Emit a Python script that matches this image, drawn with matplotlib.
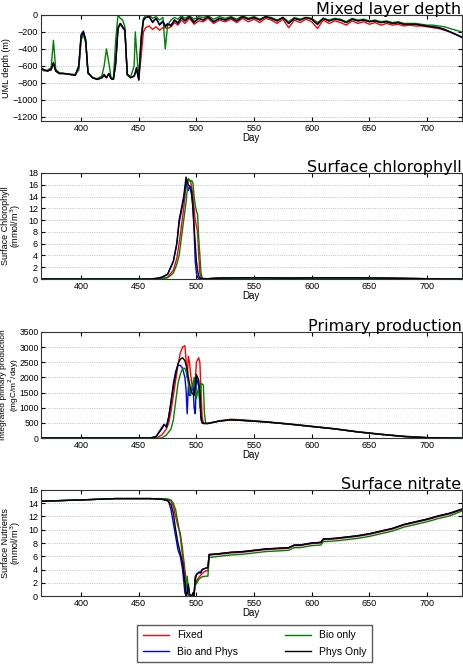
import matplotlib
matplotlib.use('Agg')
import matplotlib.pyplot as plt

plt.rcParams['font.family'] = ['Liberation Sans', 'DejaVu Sans']
plt.rcParams['font.size'] = 7

labels = ['Fixed', 'Bio and Phys', 'Bio only', 'Phys Only']
colors = ['#ff0000', '#0000ff', '#008000', '#000000']

# ---- mixed layer depth (m) ----
mld_days = [365, 368, 371, 374, 376, 378, 381, 385, 390, 395, 398, 400, 402, 404, 406,
            410, 414, 418, 420, 422, 424, 426, 428, 430, 432, 434, 436, 438, 440, 443,
            446, 447, 448, 450, 452, 454, 456, 459, 462, 465, 468, 471, 473, 475, 478,
            481, 484, 487, 490, 494, 498, 502, 506, 510, 515, 520, 525, 530, 535, 540,
            545, 550, 555, 560, 565, 570, 575, 580, 585, 590, 595, 600, 605, 610, 615,
            620, 625, 630, 635, 640, 645, 650, 655, 660, 665, 670, 675, 680, 685, 690,
            695, 700, 705, 710, 715, 720, 725, 730]
mld_fixed = [-630, -650, -660, -650, -580, -660, -690, -690, -700, -710, -620, -260, -210, -320, -690,
             -740, -760, -740, -720, -740, -700, -750, -760, -600, -170, -110, -150, -190, -710, -740,
             -720, -690, -640, -760, -500, -200, -150, -130, -170, -140, -180, -150, -150, -160, -140,
             -90, -120, -60, -100, -40, -110, -70, -80, -40, -100, -60, -80, -50, -90, -40,
             -80, -50, -90, -40, -60, -100, -50, -150, -60, -90, -50, -80, -160, -60, -100,
             -70, -90, -120, -70, -100, -80, -110, -90, -120, -100, -120, -110, -130, -120, -130,
             -130, -140, -150, -160, -180, -200, -230, -260]
mld_both = [-620, -650, -660, -640, -570, -660, -690, -690, -700, -710, -600, -230, -190, -290, -680,
            -740, -760, -740, -710, -740, -690, -750, -760, -560, -150, -100, -140, -180, -700, -740,
            -720, -680, -620, -770, -320, -70, -30, -20, -80, -40, -110, -70, -130, -100, -120,
            -60, -90, -30, -70, -20, -80, -40, -60, -20, -80, -40, -60, -30, -70, -20,
            -50, -30, -60, -20, -40, -70, -30, -100, -40, -60, -30, -50, -110, -40, -70,
            -50, -60, -90, -50, -70, -60, -80, -70, -90, -80, -100, -90, -110, -110, -110,
            -120, -130, -140, -150, -170, -200, -230, -265]
mld_bio = [-640, -660, -650, -620, -300, -640, -680, -690, -700, -700, -650, -300, -230, -330, -690,
           -740, -750, -720, -600, -400, -560, -740, -750, -300, 0, -40, -60, -140, -700, -730,
           -600, -200, -400, -760, -250, -40, -10, 0, -40, -20, -60, -30, -400, -120, -60,
           -30, -50, -10, -40, -10, -50, -20, -30, -10, -50, -20, -40, -20, -50, -10,
           -40, -20, -50, -20, -30, -60, -30, -80, -30, -50, -30, -40, -90, -40, -60,
           -40, -50, -80, -40, -60, -50, -70, -60, -80, -70, -90, -80, -100, -100, -100,
           -110, -120, -120, -130, -140, -160, -180, -200]
mld_phys = [-620, -650, -660, -640, -560, -660, -690, -690, -700, -710, -600, -250, -200, -300, -680,
            -740, -760, -740, -700, -740, -690, -750, -760, -550, -150, -100, -140, -180, -700, -740,
            -720, -680, -630, -760, -300, -60, -30, -20, -90, -40, -120, -80, -140, -110, -130,
            -60, -100, -30, -70, -20, -90, -40, -60, -20, -80, -40, -60, -30, -70, -20,
            -50, -30, -60, -20, -40, -70, -30, -100, -40, -60, -30, -50, -110, -40, -70,
            -50, -60, -90, -50, -70, -60, -80, -70, -90, -80, -100, -90, -110, -110, -110,
            -120, -130, -140, -150, -170, -200, -230, -260]

# ---- surface chlorophyll (mmol/m3) ----
chl_days = [365, 460, 465, 470, 475, 480, 483, 485, 487, 489, 491, 492, 493, 494, 495, 496,
            497, 498, 499, 500, 501, 502, 503, 504, 505, 506, 510, 520, 540, 560, 580,
            600, 620, 640, 660, 680, 700, 720, 730]
chl_fixed = [0, 0, 0.05, 0.1, 0.3, 1.5, 3.5, 6, 9, 12, 16, 16.5, 17, 16.8, 16.5, 15.5,
             14, 12, 10, 9, 8, 4, 1, 0.3, 0.1, 0.05, 0.05, 0.15, 0.2, 0.2, 0.15,
             0.2, 0.2, 0.2, 0.15, 0.1, 0.05, 0, 0]
chl_both = [0, 0, 0.1, 0.3, 0.8, 3, 6, 9.5, 11.5, 13.5, 16.5, 15.5, 15, 15.8, 15.2, 14,
            12, 8, 3, 1, 0.3, 0.1, 0.05, 0.05, 0.05, 0.05, 0.05, 0.15, 0.2, 0.2, 0.15,
            0.2, 0.2, 0.2, 0.15, 0.1, 0.05, 0, 0]
chl_bio = [0, 0, 0, 0.05, 0.2, 1, 2.5, 4, 7, 10, 13, 15, 17, 16.8, 16.5, 16.7,
           16.3, 14, 12.5, 11.5, 11, 7, 4, 1, 0.2, 0.1, 0.05, 0.15, 0.2, 0.2, 0.15,
           0.2, 0.2, 0.2, 0.15, 0.1, 0.05, 0, 0]
chl_phys = [0, 0, 0.1, 0.3, 0.8, 3, 6, 10, 12, 14, 17.3, 16.5, 16, 15.8, 15.5, 14.5,
            12, 9, 6, 3, 1.5, 0.5, 0.2, 0.1, 0.05, 0.05, 0.05, 0.15, 0.2, 0.2, 0.15,
            0.2, 0.2, 0.2, 0.15, 0.1, 0.05, 0, 0]

# ---- integrated primary production (mgC/m2/day) ----
pp_days = [365, 460, 465, 470, 472, 474, 476, 478, 480, 482, 484, 486, 488, 490, 491,
           492, 493, 494, 495, 496, 497, 498, 499, 500, 502, 503, 504, 505, 506, 507,
           508, 510, 520, 530, 540, 560, 580, 600, 620, 640, 660, 680, 700, 720, 730]
pp_fixed = [0, 0, 0, 100, 200, 300, 500, 900, 1400, 1900, 2400, 2800, 3000, 3050, 2600,
            2000, 2700, 2500, 2100, 1800, 1600, 1500, 1900, 2500, 2650, 2500, 1500, 700, 500, 490,
            480, 480, 570, 620, 600, 540, 470, 390, 310, 210, 130, 60, 15, 0, 0]
pp_both = [0, 0, 50, 350, 450, 380, 700, 1200, 1800, 2200, 2400, 2400, 2300, 2000, 1600,
           800, 1700, 1400, 1500, 1600, 1800, 1000, 800, 2000, 1700, 1200, 600, 500, 480, 480,
           480, 480, 560, 600, 580, 530, 460, 380, 300, 200, 120, 50, 10, 0, 0]
pp_bio = [0, 0, 0, 0, 50, 100, 200, 300, 600, 1200, 1800, 2100, 2300, 2300, 2200,
          2000, 1800, 1500, 1400, 1600, 1800, 2000, 1600, 1300, 1700, 1000, 1800, 1780, 1750, 800,
          500, 480, 560, 600, 580, 530, 460, 380, 300, 200, 120, 50, 10, 0, 0]
pp_phys = [0, 0, 50, 300, 450, 350, 700, 1200, 1700, 2100, 2450, 2600, 2650, 2550, 2400,
           2300, 2000, 1800, 1600, 1500, 1450, 1400, 1700, 2100, 1900, 1500, 700, 500, 480, 480,
           480, 480, 560, 600, 580, 530, 460, 380, 300, 200, 120, 50, 10, 0, 0]

# ---- surface nitrate (mmol/m3) ----
no3_days = [365, 400, 430, 460, 470, 475, 476, 478, 480, 482, 484, 486, 488, 490, 491,
            492, 493, 494, 496, 497, 498, 499, 500, 502, 504, 505, 508, 510, 511, 520,
            530, 540, 550, 560, 570, 580, 585, 590, 600, 608, 610, 620, 630, 640, 650,
            660, 670, 680, 690, 700, 710, 720, 730]
no3_fixed = [14.3, 14.5, 14.7, 14.7, 14.65, 14.55, 14.5, 14.3, 13.5, 12, 10.5, 9.5, 7, 4, 2.5,
             1, 0, 0, 0, 0.2, 0.5, 2.5, 2.2, 2.8, 3.2, 3.4, 3.8, 3.8, 6.2, 6.3,
             6.5, 6.6, 6.8, 7.0, 7.1, 7.2, 7.6, 7.6, 7.9, 8.0, 8.5, 8.6, 8.8, 9.0, 9.3,
             9.7, 10.1, 10.7, 11.1, 11.5, 12.0, 12.4, 13.0]
no3_both = [14.3, 14.5, 14.7, 14.7, 14.6, 14.4, 14.2, 13.0, 11, 9, 7, 6, 4, 0.5, 0,
            0.5, 1.5, 0.2, 0, 0.3, 0, 2.8, 3.3, 3.6, 3.7, 4.0, 4.2, 4.3, 6.3, 6.4,
            6.6, 6.7, 6.9, 7.1, 7.2, 7.3, 7.7, 7.7, 8.0, 8.1, 8.6, 8.7, 8.9, 9.1, 9.4,
            9.8, 10.2, 10.8, 11.2, 11.6, 12.1, 12.5, 13.1]
no3_bio = [14.3, 14.5, 14.7, 14.7, 14.7, 14.65, 14.6, 14.5, 14, 13, 11, 9, 6, 3, 1,
           3, 1, 0, 0, 0, 0, 3, 1.8, 2.5, 2.8, 2.9, 3, 3, 5.8, 6.0,
           6.2, 6.3, 6.5, 6.7, 6.8, 6.9, 7.3, 7.3, 7.6, 7.7, 8.2, 8.3, 8.5, 8.7, 9.0,
           9.4, 9.8, 10.4, 10.8, 11.2, 11.7, 12.1, 12.8]
no3_phys = [14.3, 14.5, 14.7, 14.7, 14.6, 14.4, 14.2, 13.8, 12.5, 10, 8, 6.5, 5, 2, 0,
            0.5, 1.8, 0.3, 0, 0.5, 0, 2.5, 3.2, 3.5, 3.5, 4.0, 4.2, 4.3, 6.2, 6.4,
            6.6, 6.7, 6.9, 7.1, 7.2, 7.3, 7.7, 7.7, 8.0, 8.1, 8.6, 8.7, 8.9, 9.1, 9.4,
            9.8, 10.2, 10.8, 11.2, 11.6, 12.1, 12.5, 13.1]

panels = [
    ('Mixed layer depth', 'UML depth (m)', mld_days,
     [mld_fixed, mld_both, mld_bio, mld_phys], (-1250, 0), range(-1200, 1, 200), -0.07, 6.5),
    ('Surface chlorophyll', 'Surface Chlorophyll\n(mmol/m$^3$)', chl_days,
     [chl_fixed, chl_both, chl_bio, chl_phys], (0, 18), range(0, 19, 2), -0.041, 6.5),
    ('Primary production', 'Integrated primary production\n(mgC/m$^2$/day)', pp_days,
     [pp_fixed, pp_both, pp_bio, pp_phys], (0, 3500), range(0, 3501, 500), -0.047, 6.0),
    ('Surface nitrate', 'Surface Nutrients\n(mmol/m$^3$)', no3_days,
     [no3_fixed, no3_both, no3_bio, no3_phys], (0, 16), range(0, 17, 2), -0.041, 6.5),
]

fig = plt.figure(figsize=(4.63, 6.67), dpi=100)
bottoms = [0.8186, 0.5817, 0.3433, 0.1064]
handles = []
for k, (title, ylab, days, series, ylim, yticks, labx, labfs) in enumerate(panels):
    ax = fig.add_axes([0.088, bottoms[k], 0.909, 0.159])
    for i in range(4):
        h, = ax.plot(days, series[i], color=colors[i], lw=1.0, label=labels[i])
        if k == 0:
            handles.append(h)
    ax.set_xlim(365, 730)
    ax.set_ylim(*ylim)
    ax.set_xticks(range(400, 701, 50))
    ax.set_yticks(list(yticks))
    ax.yaxis.grid(True, linestyle=':', color='#b0b0b0', lw=0.6)
    ax.tick_params(direction='in', top=True, right=True, length=3, labelsize=6.5, pad=2)
    if k == 2:
        ax.tick_params(axis='y', labelsize=6.2, pad=1.5)
    ax.set_xlabel('Day', fontsize=7, labelpad=0)
    ax.set_ylabel(ylab, fontsize=labfs, linespacing=0.95)
    ax.yaxis.set_label_coords(labx, 0.5)
    ax.set_title(title, loc='right', fontsize=11.5, family='DejaVu Sans', pad=1)
    for s in ax.spines.values():
        s.set_color('#333333')

fig.legend(handles, labels, ncol=2, loc='lower center', bbox_to_anchor=(0.55, 0.0),
           fontsize=7.5, frameon=True, fancybox=False, edgecolor='#333333',
           handlelength=2.5, columnspacing=4.5, borderpad=0.5, labelspacing=0.6)

fig.savefig('out.png', dpi=100)
